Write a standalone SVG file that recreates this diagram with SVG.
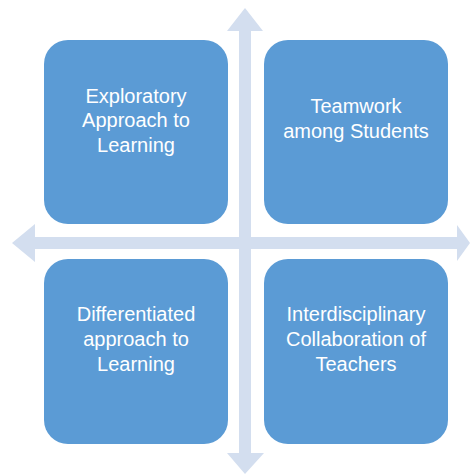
<svg xmlns="http://www.w3.org/2000/svg" width="470" height="475" viewBox="0 0 470 475">
<style>
.box{fill:#5B9BD5}
.arr{fill:#D3DEEF}
text{font-family:"Liberation Sans","DejaVu Sans",sans-serif;font-size:20px;fill:#FFFFFF;text-anchor:middle}
</style>
<rect width="470" height="475" fill="#FFFFFF"/>
<g id="connectors">
<polygon class="arr" points="245,8 263,31 251,31 251,453 264,453 245,474 227,453 239,453 239,31 227,31"/>
<polygon class="arr" points="12,243 35,224 35,237 457,237 457,225 470,243 457,261 457,249 35,249 35,262"/>
</g>
<g id="node1"><rect class="box" x="44" y="40" width="184" height="184" rx="24"/>
<text x="136" y="103">Exploratory</text><text x="136" y="127">Approach to</text><text x="136" y="152">Learning</text></g>
<g id="node2"><rect class="box" x="264" y="40" width="184" height="184" rx="24"/>
<text x="356" y="113">Teamwork</text><text x="356" y="138">among Students</text></g>
<g id="node3"><rect class="box" x="44" y="259" width="184" height="185" rx="24"/>
<text x="136" y="321">Differentiated</text><text x="136" y="346">approach to</text><text x="136" y="371">Learning</text></g>
<g id="node4"><rect class="box" x="264" y="259" width="184" height="185" rx="24"/>
<text x="356" y="321">Interdisciplinary</text><text x="356" y="346">Collaboration of</text><text x="356" y="371">Teachers</text></g>
</svg>
